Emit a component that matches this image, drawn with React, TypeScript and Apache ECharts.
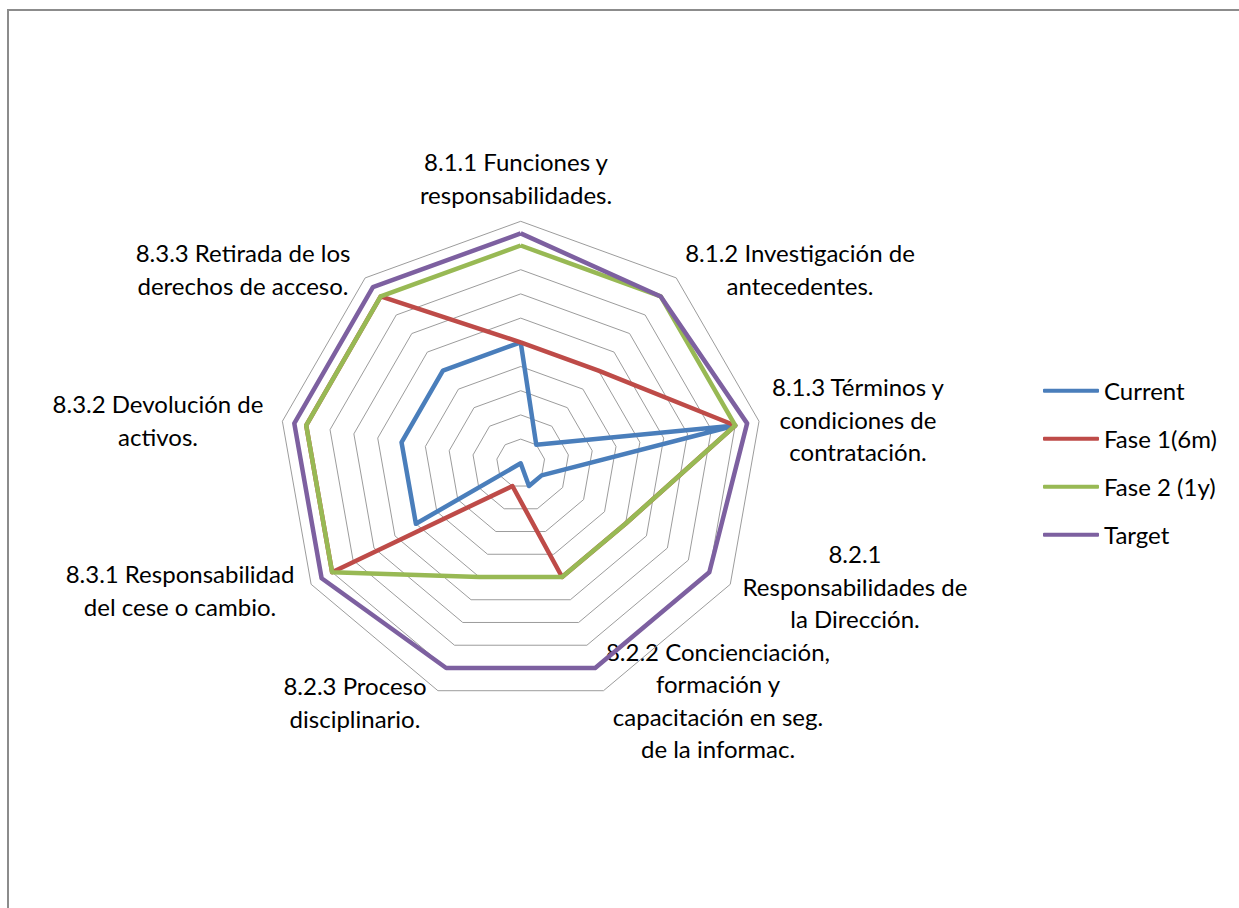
import { useEffect, useRef } from "react";
import * as echarts from "echarts";

// Control areas (ISO 27002 chapter 8), listed clockwise from the top.
const categories = [
  "8.1.1 Funciones y\nresponsabilidades.",
  "8.1.2 Investigación de\nantecedentes.",
  "8.1.3 Términos y\ncondiciones de\ncontratación.",
  "8.2.1\nResponsabilidades de\nla Dirección.",
  "8.2.2 Concienciación,\nformación y\ncapacitación en seg.\nde la informac.",
  "8.2.3 Proceso\ndisciplinario.",
  "8.3.1 Responsabilidad\ndel cese o cambio.",
  "8.3.2 Devolución de\nactivos.",
  "8.3.3 Retirada de los\nderechos de acceso.",
];

const seriesNames = ["Current", "Fase 1(6m)", "Fase 2 (1y)", "Target"];
const current = [5, 1, 9, 1, 1, 0, 5, 5, 5];
const fase1 = [5, 5, 9, 5, 5, 1, 9, 9, 9];
const fase2 = [9, 9, 9, 5, 5, 5, 9, 9, 9];
const target = [9.5, 9, 9.5, 9, 9, 9, 9.5, 9.5, 9.5];

const scaleMax = 10;
const ringCount = 10;

// Layout
const CENTER: [number, number] = [520.7, 463.3];
const RADIUS = 242;
const FONT = "Lato, 'Open Sans', sans-serif";
const FONT_SIZE = 24;
const LINE_COLORS = ["#4A7EBB", "#BE4B48", "#98B954", "#7D60A0"];
// Centre of each multi-line category caption, same order as categories.
const labelAnchors: [number, number][] = [
  [516, 178],
  [800, 269],
  [858, 419],
  [855, 586],
  [718, 700],
  [355, 702],
  [180, 590],
  [158, 420],
  [243, 269],
];

export default function App() {
  const ref = useRef<HTMLDivElement>(null);

  useEffect(() => {
    if (!ref.current) return;
    const chart = echarts.init(ref.current, undefined, { renderer: "svg" });

    // ECharts lays radar indicators out counter-clockwise; keep the first
    // one at the top and reverse the rest so the categories run clockwise.
    const order = [0, ...categories.map((_, i) => i).slice(1).reverse()];
    const reorder = (arr: number[]) => order.map((i) => arr[i]);
    const allSeries = [current, fase1, fase2, target];

    chart.setOption({
      animation: false,
      backgroundColor: "#ffffff",
      legend: {
        orient: "vertical",
        left: 1043,
        top: 376.7,
        padding: 0,
        itemGap: 20,
        itemWidth: 56,
        itemHeight: 4,
        icon: "roundRect",
        data: seriesNames,
        textStyle: {
          fontFamily: FONT,
          fontSize: FONT_SIZE,
          color: "#000",
          lineHeight: 28,
          padding: [0, 0, 0, 0],
        },
      },
      radar: {
        center: CENTER,
        radius: RADIUS,
        startAngle: 90,
        shape: "polygon",
        splitNumber: ringCount,
        indicator: order.map(() => ({ name: "", min: 0, max: scaleMax })),
        axisName: { show: false },
        axisLine: { show: false },
        axisTick: { show: false },
        axisLabel: { show: false },
        splitArea: { show: false },
        splitLine: { lineStyle: { color: "#9c9c9c", width: 1 } },
      },
      series: [
        {
          type: "radar",
          symbol: "none",
          data: allSeries.map((vals, k) => ({
            name: seriesNames[k],
            value: reorder(vals),
            lineStyle: { color: LINE_COLORS[k], width: 4.5, join: "round" },
            itemStyle: { color: LINE_COLORS[k] },
          })),
        },
      ],
      graphic: [
        {
          type: "rect",
          shape: { x: 8, y: 10, width: 1400, height: 1100 },
          style: { fill: "none", stroke: "#8c8c8c", lineWidth: 2 },
          silent: true,
        },
        ...categories.map((text, i) => ({
          type: "text",
          x: labelAnchors[i][0],
          y: labelAnchors[i][1],
          silent: true,
          style: {
            text,
            fill: "#000",
            font: `${FONT_SIZE}px ${FONT}`,
            textAlign: "center",
            textVerticalAlign: "middle",
            lineHeight: 32.5,
          },
        })),
      ],
    });

    return () => chart.dispose();
  }, []);

  return (
    <div
      ref={ref}
      style={{ position: "fixed", left: 0, top: 0, width: 1239, height: 908 }}
    />
  );
}
